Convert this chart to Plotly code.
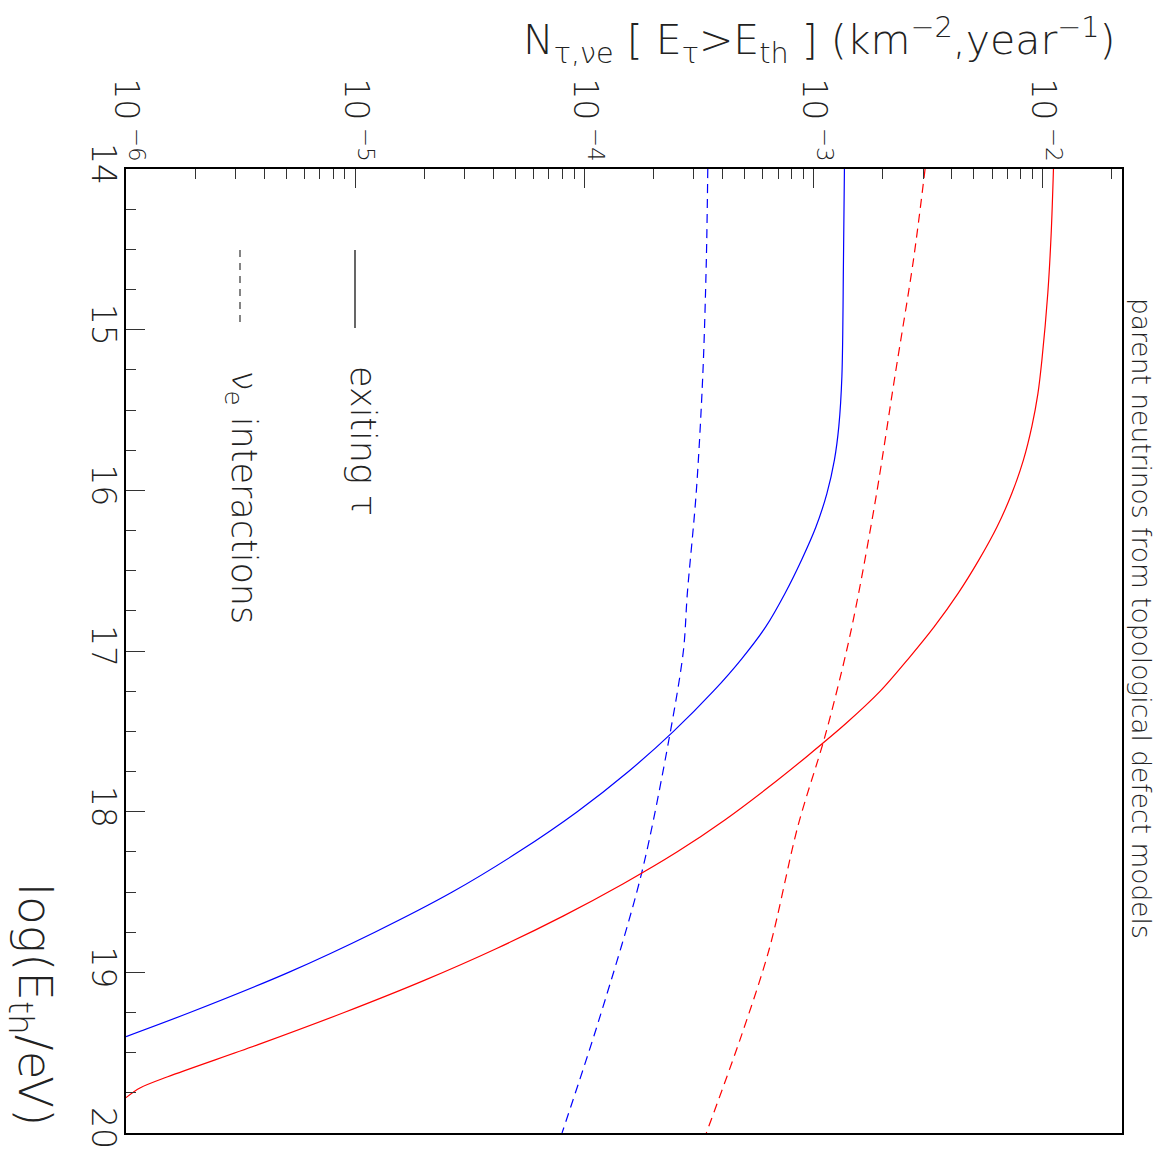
import plotly.graph_objects as go

# Threshold energy grid, log10(E_th / eV), with the event rate N above threshold
loge_tau_blue = [14.0, 14.57, 15.29, 15.60, 15.81, 16.02, 16.23, 16.43, 16.64, 16.85,
                 17.05, 17.25, 17.50, 17.75, 18.00, 18.25, 18.50, 18.75, 19.00, 19.25, 19.40]
n_tau_blue = [1.361e-3, 1.348e-3, 1.327e-3, 1.287e-3, 1.231e-3, 1.141e-3, 1.021e-3, 8.87e-4, 7.50e-4, 6.17e-4,
              4.84e-4, 3.65e-4, 2.445e-4, 1.556e-4, 9.30e-5, 5.16e-5, 2.65e-5, 1.217e-5, 5.12e-6, 1.90e-6, 1.0e-6]

loge_tau_red = [14.0, 14.40, 14.77, 15.19, 15.40, 15.60, 15.81, 16.02, 16.23, 16.43, 16.64, 16.85,
                17.05, 17.25, 17.45, 17.65, 17.85, 18.05, 18.25, 18.45, 18.65, 18.85, 19.05, 19.25,
                19.45, 19.65, 19.72, 19.78]
n_tau_red = [1.111e-2, 1.086e-2, 1.05e-2, 9.89e-3, 9.50e-3, 8.95e-3, 8.22e-3, 7.31e-3, 6.29e-3, 5.27e-3, 4.27e-3, 3.35e-3,
             2.58e-3, 1.95e-3, 1.385e-3, 9.45e-4, 6.32e-4, 4.11e-4, 2.54e-4, 1.47e-4, 8.06e-5, 4.16e-5, 2.00e-5, 8.94e-6,
             3.77e-6, 1.52e-6, 1.15e-6, 1.0e-6]

loge_nue_blue = [14.0, 14.57, 15.29, 16.02, 16.64, 17.0, 17.53, 18.39, 19.29, 20.0]
n_nue_blue = [3.45e-4, 3.40e-4, 3.28e-4, 3.07e-4, 2.81e-4, 2.70e-4, 2.35e-4, 1.77e-4, 1.16e-4, 7.98e-5]

loge_nue_red = [14.0, 14.57, 15.29, 16.02, 16.64, 17.0, 17.53, 18.09, 18.85, 19.40, 20.0]
n_nue_red = [3.06e-3, 2.72e-3, 2.26e-3, 1.88e-3, 1.57e-3, 1.39e-3, 1.12e-3, 8.53e-4, 6.41e-4, 4.82e-4, 3.40e-4]

# Axis ticks
n_major = [1e-6, 1e-5, 1e-4, 1e-3, 1e-2]
n_major_text = ["10<sup> \u22126</sup>", "10<sup> \u22125</sup>", "10<sup> \u22124</sup>",
                "10<sup> \u22123</sup>", "10<sup> \u22122</sup>"]
n_minor = [k * d for d in n_major for k in range(2, 10)]
loge_major = [14, 15, 16, 17, 18, 19, 20]

FONT = "DejaVu Sans"
WEIGHT = 200
TXT = "#222"
BLUE = "#0000ff"
RED = "#ff0000"

fig = go.Figure()

# N runs along the horizontal axis, the energy threshold runs downward
curve = dict(width=1.2, shape="spline", smoothing=0.9)
fig.add_trace(go.Scatter(x=n_nue_blue, y=loge_nue_blue, mode="lines",
                         line=dict(color=BLUE, dash="9px,6px", **curve)))
fig.add_trace(go.Scatter(x=n_nue_red, y=loge_nue_red, mode="lines",
                         line=dict(color=RED, dash="9px,6px", **curve)))
fig.add_trace(go.Scatter(x=n_tau_blue, y=loge_tau_blue, mode="lines",
                         line=dict(color=BLUE, **curve)))
fig.add_trace(go.Scatter(x=n_tau_red, y=loge_tau_red, mode="lines",
                         line=dict(color=RED, **curve)))

W, H = 1167, 1165
L, R, T, B = 126, 45, 169, 32
pw, ph = W - L - R, H - T - B


def px(x):
    return (x - L) / pw


def py(y):
    return (H - B - y) / ph


tickfont = dict(family=FONT, size=33, color=TXT, weight=WEIGHT)

fig.update_layout(
    width=W, height=H,
    margin=dict(l=L, r=R, t=T, b=B),
    paper_bgcolor="white", plot_bgcolor="white",
    showlegend=False,
    font=dict(family=FONT, color=TXT, weight=WEIGHT),
    xaxis=dict(
        type="log", range=[-6, -1.6553], side="top",
        showgrid=False, zeroline=False, automargin=False,
        showline=True, linecolor="black", linewidth=1.5, mirror=True,
        ticks="inside", ticklen=19, tickwidth=1.2, tickcolor="#333",
        tickvals=n_major, ticktext=n_major_text, tickangle=90,
        tickfont=tickfont, ticklabelstandoff=-6,
        minor=dict(tickvals=n_minor, ticks="inside", ticklen=10, tickwidth=1.2,
                   tickcolor="#333", showgrid=False),
    ),
    yaxis=dict(
        range=[20, 14], showgrid=False, zeroline=False, automargin=False,
        showline=True, linecolor="black", linewidth=1.5, mirror=True,
        ticks="inside", ticklen=19, tickwidth=1.2, tickcolor="#333",
        tickvals=loge_major, tickangle=90,
        tickfont=tickfont, ticklabelstandoff=-7,
        minor=dict(dtick=0.25, ticks="inside", ticklen=10, tickwidth=1.2,
                   tickcolor="#333", showgrid=False),
    ),
)

ann = [
    dict(text="N<sub>\u03c4,\u03bde</sub> [ E<sub>\u03c4</sub>&gt;E<sub>th</sub> ] "
              "(km<sup>\u22122</sup>,year<sup>\u22121</sup>)",
         x=px(1118), y=py(40), xanchor="right", yanchor="middle", textangle=0,
         font=dict(size=41)),
    dict(text="log(E<sub>th</sub>/eV)", x=px(32), y=py(1004),
         xanchor="center", yanchor="middle", textangle=90, font=dict(size=47)),
    dict(text="parent neutrinos from topological defect models", x=px(1142), y=py(618),
         xanchor="center", yanchor="middle", textangle=90, font=dict(size=26.5)),
    dict(text="exiting \u03c4", x=px(363), y=py(441),
         xanchor="center", yanchor="middle", textangle=90, font=dict(size=35)),
    dict(text="\u03bd<sub>e</sub> interactions", x=px(242), y=py(497),
         xanchor="center", yanchor="middle", textangle=90, font=dict(size=35)),
]
for a in ann:
    a.update(xref="paper", yref="paper", showarrow=False)
    a["font"].update(family=FONT, color=TXT, weight=WEIGHT)
fig.update_layout(annotations=ann)

# Legend keys
fig.add_shape(type="line", xref="paper", yref="paper", x0=px(355), x1=px(355), y0=py(250), y1=py(328),
              line=dict(color="black", width=1.2))
fig.add_shape(type="line", xref="paper", yref="paper", x0=px(240), x1=px(240), y0=py(250), y1=py(328),
              line=dict(color="#333", width=1.2, dash="7px,6px"))

fig.write_html("out.html")
